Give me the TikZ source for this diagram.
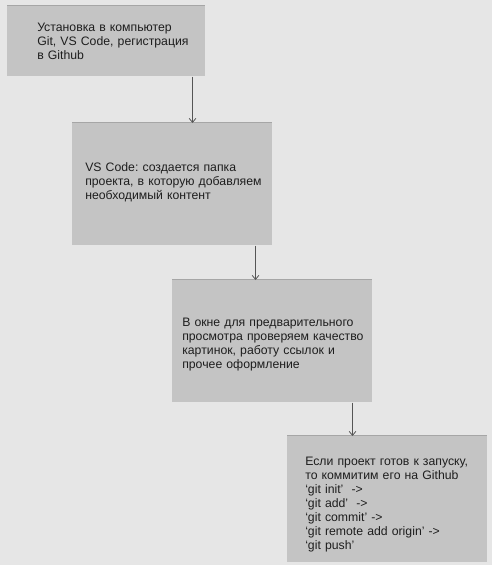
\documentclass[tikz,border=0pt]{standalone}
\usepackage{fontspec}
\setmainfont{Liberation Sans}
\frenchspacing
\usetikzlibrary{arrows.meta}
\definecolor{bg}{HTML}{E6E6E6}
\definecolor{boxfill}{HTML}{C4C4C4}
\definecolor{shade}{HTML}{A6A6A6}
\definecolor{linecol}{HTML}{555555}
\definecolor{txt}{HTML}{1E1E1E}
\begin{document}
\begin{tikzpicture}[x=0.75pt,y=-0.75pt,
  stepbox/.style={draw=none,fill=boxfill,anchor=north west,inner sep=0pt,minimum width=150pt,
    preaction={fill=shade,transform canvas={yshift=0.9pt}}},
  label/.style={anchor=base west,inner sep=0pt,text width=150pt,align=left,
    font=\fontsize{9.2pt}{10.6pt}\selectfont,text=txt},
  arr/.style={draw=linecol,line width=0.9pt,-{Straight Barb[length=3pt,width=5pt,line width=0.6pt]}}]
\fill[bg] (0,0) rectangle (492,565);
\useasboundingbox (0,0) rectangle (492,565);
\node[stepbox,minimum width=148.5pt,minimum height=52.5pt] (b1) at (7,6) {};
\node[stepbox,minimum height=91.5pt] (b2) at (72,123) {};
\node[stepbox,minimum height=91.5pt] (b3) at (172,280) {};
\node[stepbox,minimum height=94.5pt] (b4) at (287,436) {};
\node[label] (t1) at (37,31) {Установка в компьютер\\Git, VS Code, регистрация\\в Github};
\node[label] (t2) at (85,171) {VS Code: создается папка\\проекта, в которую добавляем\\необходимый контент};
\node[label] (t3) at (182,326) {В окне для предварительного\\просмотра проверяем качество\\картинок, работу ссылок и\\прочее оформление};
\node[label] (t4) at (305,465) {Если проект готов к запуску,\\то коммитим его на Github\\‘git init’~ ->\\‘git add’~ ->\\‘git commit’ ->\\‘git remote add origin’ ->\\‘git push’};
\path (b1.south east) ++(-13,0) coordinate (s1);
\path (b2.south east) ++(-17,0) coordinate (s2);
\path (b3.south east) ++(-20,0) coordinate (s3);
\draw[arr] (s1) -- (s1 |- b2.north);
\draw[arr] (s2) -- (s2 |- b3.north);
\draw[arr] (s3) -- (s3 |- b4.north);
\end{tikzpicture}
\end{document}
